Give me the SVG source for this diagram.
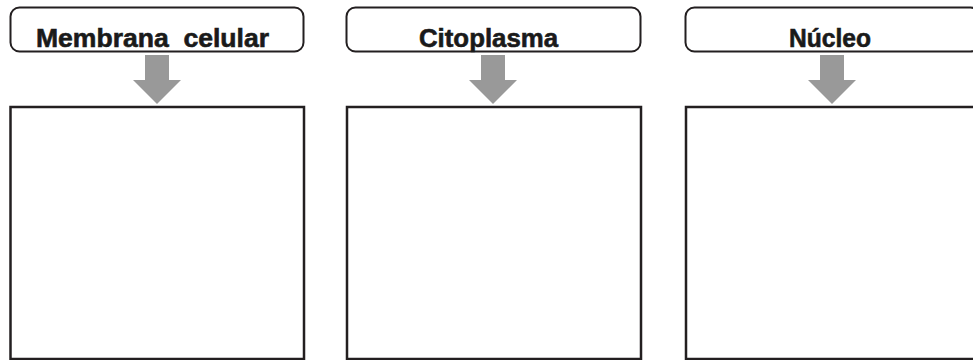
<svg xmlns="http://www.w3.org/2000/svg" width="973" height="360" viewBox="0 0 973 360">
<style>
.hdr{fill:#ffffff;stroke:#231f20;stroke-width:2}
.box{fill:#ffffff;stroke:#231f20;stroke-width:2.5}
.lbl{font-family:"Liberation Sans",Arial,sans-serif;font-weight:bold;font-size:25.5px;fill:#1a1a1a;stroke:#1a1a1a;stroke-width:0.6}
.arr{fill:#999999}
</style>
<rect width="973" height="360" fill="#ffffff"/>
<g id="node-membrana">
<rect class="hdr" x="10.5" y="7.5" width="293" height="44" rx="9" ry="9"/>
<text class="lbl" x="36" y="46.5" textLength="233" lengthAdjust="spacingAndGlyphs" xml:space="preserve">Membrana  celular</text>
</g>
<g id="node-citoplasma">
<rect class="hdr" x="346.5" y="7.5" width="294" height="44" rx="9" ry="9"/>
<text class="lbl" x="419" y="46.5" textLength="139" lengthAdjust="spacingAndGlyphs">Citoplasma</text>
</g>
<g id="node-nucleo">
<rect class="hdr" x="685.5" y="7.5" width="294" height="44" rx="9" ry="9"/>
<text class="lbl" x="789" y="46.5" textLength="82" lengthAdjust="spacingAndGlyphs">Núcleo</text>
</g>
<g id="node-box1">
<rect class="box" x="10.5" y="107" width="293.5" height="252"/>
</g>
<g id="node-box2">
<rect class="box" x="347" y="107" width="294" height="252"/>
</g>
<g id="node-box3">
<rect class="box" x="686" y="107" width="294" height="252"/>
</g>
<g id="connectors">
<polygon class="arr" points="145,55 169,55 169,80 181,80 157,104 133,80 145,80"/>
<polygon class="arr" points="481,55 505,55 505,80 517,80 493,104 469,80 481,80"/>
<polygon class="arr" points="820,55 844,55 844,80 856,80 832,104 808,80 820,80"/>
</g>
</svg>
